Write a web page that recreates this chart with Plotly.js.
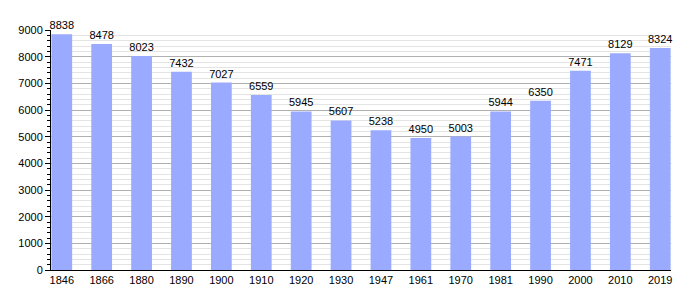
<!DOCTYPE html>
<html>
<head>
<meta charset="utf-8">
<script src="https://cdn.plot.ly/plotly-3.0.1.min.js"></script>
<style>html,body{margin:0;padding:0;background:#fff;}#chart{width:700px;height:300px;}</style>
</head>
<body>
<div id="chart"></div>
<script>
var years = ["1846","1866","1880","1890","1900","1910","1920","1930","1947","1961","1970","1981","1990","2000","2010","2019"];
var population = [8838,8478,8023,7432,7027,6559,5945,5607,5238,4950,5003,5944,6350,7471,8129,8324];

Plotly.newPlot('chart', [{
  type: 'bar',
  x: years,
  y: population,
  text: population.map(String),
  textposition: 'outside',
  constraintext: 'none',
  cliponaxis: false,
  textfont: {family: 'Liberation Sans, Arial, sans-serif', size: 11, color: '#000'},
  marker: {color: '#99aaff', line: {width: 0}},
  width: 0.52,
  hoverinfo: 'x+y'
}], {
  width: 700, height: 300,
  margin: {l: 51, r: 29, t: 30, b: 30},
  paper_bgcolor: '#fff', plot_bgcolor: '#fff',
  showlegend: false,
  font: {family: 'Liberation Sans, Arial, sans-serif', size: 11, color: '#000'},
  xaxis: {
    type: 'category',
    range: [-0.27, 15.27],
    showline: true, linecolor: '#000', linewidth: 1,
    ticks: '', showgrid: false,
    tickfont: {size: 11}
  },
  yaxis: {
    range: [0, 9000],
    dtick: 1000, tick0: 0,
    showline: true, linecolor: '#000', linewidth: 1,
    ticks: 'outside', ticklen: 5, tickcolor: '#000',
    gridcolor: '#b0b0b0', gridwidth: 1,
    zeroline: false,
    tickfont: {size: 11},
    minor: {dtick: 200, ticks: 'outside', ticklen: 3, tickcolor: '#000', showgrid: true, gridcolor: '#e4e4e4', gridwidth: 1}
  }
}, {displayModeBar: false, staticPlot: true});
</script>
</body>
</html>
